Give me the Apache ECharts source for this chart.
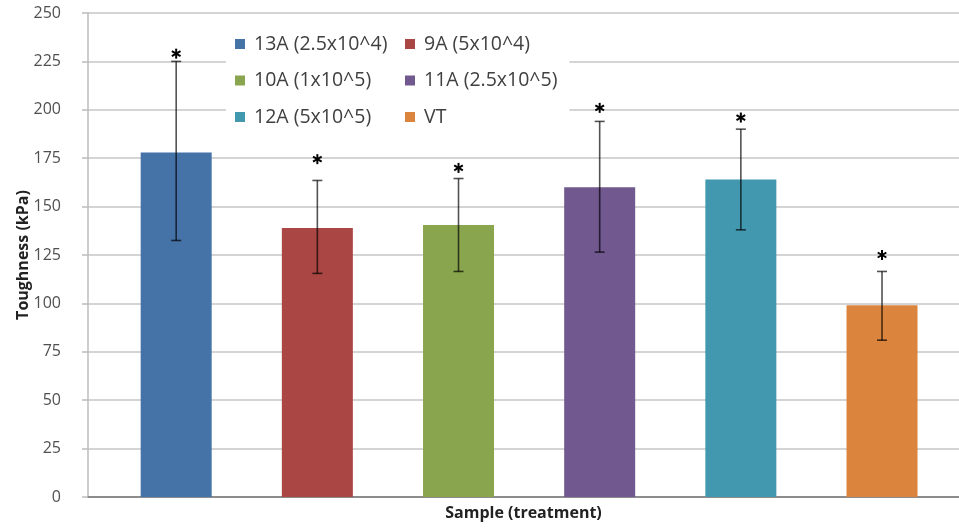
<!DOCTYPE html>
<html>
<head>
<meta charset="utf-8">
<script src="https://cdn.jsdelivr.net/npm/echarts@6/dist/echarts.min.js"></script>
<style>html,body{margin:0;padding:0;background:#fff;}#c{width:959px;height:529px;}</style>
</head>
<body>
<div id="c"></div>
<script>
var categories = ['13A (2.5x10^4)', '9A (5x10^4)', '10A (1x10^5)', '11A (2.5x10^5)', '12A (5x10^5)', 'VT'];
var values = [178, 139, 140.5, 160, 164, 99];
var errLow = [132.5, 115.5, 116.5, 126.5, 138, 81];
var errHigh = [225, 163.5, 164.5, 194, 190, 116.5];
var starPos = [229, 174.5, 170, 201, 196, 125];
var colors = ['#4572A7', '#AA4643', '#89A54E', '#71588F', '#4198AF', '#DB843D'];
var yTicks = {min: 0, max: 250, interval: 25};

var chart = echarts.init(document.getElementById('c'), null, {renderer: 'canvas'});

var barSeries = categories.map(function (name, i) {
  var d = categories.map(function (c, j) { return j === i ? values[i] : '-'; });
  return {
    name: name, type: 'bar', xAxisIndex: 1, yAxisIndex: 1, stack: 'all',
    barWidth: 71, data: d, itemStyle: {color: colors[i]}, silent: true
  };
});

var errData = categories.map(function (c, i) { return [i, errLow[i], errHigh[i], starPos[i]]; });

var errSeries = {
  type: 'custom', xAxisIndex: 1, yAxisIndex: 1, silent: true, z: 5,
  data: errData,
  renderItem: function (params, api) {
    var lo = api.coord([api.value(0), api.value(1)]);
    var hi = api.coord([api.value(0), api.value(2)]);
    var st = api.coord([api.value(0), api.value(3)]);
    var x = lo[0], cw = 5, r = 5;
    var s = {stroke: 'rgba(0,0,0,0.68)', lineWidth: 1.6};
    var children = [
      {type: 'line', shape: {x1: x, y1: lo[1], x2: x, y2: hi[1]}, style: s},
      {type: 'line', shape: {x1: x - cw, y1: lo[1], x2: x + cw, y2: lo[1]}, style: s},
      {type: 'line', shape: {x1: x - cw, y1: hi[1], x2: x + cw, y2: hi[1]}, style: s}
    ];
    [90, 30, 150].forEach(function (a) {
      var rad = a * Math.PI / 180;
      children.push({type: 'line', shape: {
        x1: st[0] - r * Math.cos(rad), y1: st[1] - r * Math.sin(rad),
        x2: st[0] + r * Math.cos(rad), y2: st[1] + r * Math.sin(rad)},
        style: {stroke: '#000', lineWidth: 2}});
    });
    return {type: 'group', children: children};
  }
};

var legendText = {fontFamily: 'Open Sans', fontSize: 19.5, color: '#404040', lineHeight: 20, padding: [0, 0, 0, 4]};

var option = {
  animation: false,
  backgroundColor: '#fff',
  grid: [
    {left: 88, right: -10, top: 13, bottom: 32, containLabel: false},
    {left: 105.6, right: 6.4, top: 13, bottom: 32, containLabel: false}
  ],
  legend: [
    {data: [categories[0], categories[2], categories[4]], orient: 'vertical', left: 226, top: 22,
     padding: [12, 12, 12, 9], backgroundColor: '#fff', itemWidth: 10, itemHeight: 10, itemGap: 16.5,
     icon: 'rect', selectedMode: false, textStyle: legendText},
    {data: [categories[1], categories[3], categories[5]], orient: 'vertical', left: 396, top: 22,
     padding: [12, 12, 12, 9], backgroundColor: '#fff', itemWidth: 10, itemHeight: 10, itemGap: 16.5,
     icon: 'rect', selectedMode: false, textStyle: legendText}
  ],
  xAxis: [
    {type: 'value', gridIndex: 0, min: 0, max: 1, splitLine: {show: false}, axisTick: {show: false},
     axisLabel: {show: false}, axisLine: {show: true, lineStyle: {color: '#8c8c8c', width: 2}},
     name: 'Sample (treatment)', nameLocation: 'middle', nameGap: 8, nameMoveOverlap: false,
     nameTextStyle: {fontFamily: 'Open Sans', fontWeight: 'bold', fontSize: 16, color: '#222', verticalAlign: 'top'}},
    {type: 'category', gridIndex: 1, data: categories, show: false}
  ],
  yAxis: [
    {type: 'value', gridIndex: 0, min: yTicks.min, max: yTicks.max, interval: yTicks.interval,
     axisLine: {show: true, lineStyle: {color: '#bcbcbc', width: 1.5}},
     axisTick: {show: true, inside: false, length: 6, lineStyle: {color: '#bcbcbc', width: 1.5}},
     axisLabel: {margin: 27, fontFamily: 'Open Sans', fontSize: 16, color: '#505050'},
     splitLine: {show: true, lineStyle: {color: '#d4d4d4', width: 2}},
     name: 'Toughness (kPa)', nameLocation: 'middle', nameGap: 57, nameMoveOverlap: false,
     nameTextStyle: {fontFamily: 'Open Sans', fontWeight: 'bold', fontSize: 16, color: '#222'}},
    {type: 'value', gridIndex: 1, min: yTicks.min, max: yTicks.max, interval: yTicks.interval, show: false,
     splitLine: {show: false}}
  ],
  series: barSeries.concat([errSeries])
};
chart.setOption(option);
</script>
</body>
</html>
